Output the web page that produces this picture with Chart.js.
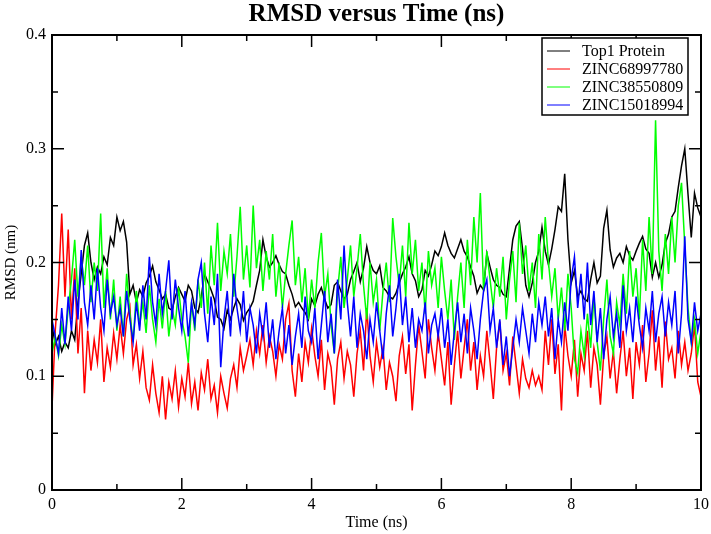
<!DOCTYPE html>
<html>
<head>
<meta charset="utf-8">
<script src="https://cdn.jsdelivr.net/npm/chart.js@4/dist/chart.umd.min.js"></script>
<style>
  body { margin: 0; background: #fff; }
  #rmsd { display: block; }
</style>
</head>
<body>
<canvas id="rmsd" width="711" height="534"></canvas>
<script>
/*--data, sampled every 0.05 ns--*/
var timeStep = 0.05;
var seriesNames = ["Top1 Protein", "ZINC68997780", "ZINC38550809", "ZINC15018994"];
var seriesColors = ["#000000", "#ff0000", "#00ff00", "#0000ff"];

var top1 = [
  0.145,0.128,0.135,0.122,0.130,0.125,0.140,0.132,0.165,0.190,
  0.215,0.226,0.200,0.185,0.196,0.190,0.205,0.198,0.222,0.215,
  0.240,0.228,0.236,0.218,0.172,0.180,0.165,0.176,0.170,0.182,
  0.188,0.197,0.183,0.176,0.168,0.172,0.160,0.158,0.170,0.178,
  0.172,0.166,0.180,0.175,0.160,0.156,0.170,0.190,0.183,0.176,
  0.168,0.152,0.150,0.142,0.158,0.150,0.160,0.168,0.163,0.149,
  0.156,0.160,0.166,0.180,0.193,0.220,0.205,0.196,0.200,0.206,
  0.198,0.192,0.190,0.180,0.172,0.161,0.165,0.160,0.156,0.150,
  0.168,0.162,0.172,0.178,0.168,0.160,0.163,0.180,0.183,0.175,
  0.168,0.172,0.185,0.192,0.200,0.183,0.195,0.214,0.200,0.193,
  0.190,0.197,0.178,0.175,0.170,0.168,0.173,0.182,0.190,0.196,
  0.205,0.190,0.184,0.170,0.176,0.193,0.188,0.198,0.210,0.206,
  0.214,0.226,0.215,0.208,0.204,0.212,0.220,0.210,0.205,0.196,
  0.188,0.173,0.180,0.176,0.208,0.196,0.185,0.180,0.178,0.172,
  0.170,0.195,0.220,0.232,0.236,0.212,0.180,0.170,0.182,0.200,
  0.210,0.231,0.210,0.198,0.212,0.229,0.249,0.245,0.278,0.220,
  0.182,0.193,0.170,0.175,0.168,0.166,0.185,0.200,0.182,0.188,
  0.230,0.246,0.211,0.196,0.204,0.208,0.200,0.214,0.206,0.202,
  0.210,0.217,0.223,0.212,0.208,0.187,0.200,0.187,0.198,0.217,
  0.225,0.240,0.245,0.266,0.285,0.300,0.260,0.222,0.261,0.248,
  0.240
];

var zinc68997780 = [
  0.072,0.140,0.180,0.243,0.170,0.229,0.150,0.195,0.120,0.160,
  0.085,0.140,0.105,0.132,0.112,0.150,0.095,0.125,0.108,0.138,
  0.115,0.145,0.120,0.150,0.161,0.110,0.128,0.098,0.122,0.090,
  0.079,0.110,0.085,0.068,0.100,0.062,0.095,0.080,0.105,0.073,
  0.098,0.082,0.112,0.076,0.095,0.070,0.103,0.088,0.115,0.080,
  0.092,0.068,0.100,0.085,0.072,0.098,0.110,0.090,0.125,0.105,
  0.118,0.132,0.110,0.140,0.120,0.145,0.112,0.135,0.122,0.100,
  0.128,0.115,0.150,0.164,0.105,0.082,0.120,0.095,0.130,0.112,
  0.142,0.118,0.100,0.132,0.088,0.120,0.108,0.075,0.115,0.130,
  0.098,0.122,0.110,0.082,0.120,0.140,0.105,0.160,0.118,0.095,
  0.130,0.108,0.125,0.088,0.112,0.100,0.078,0.118,0.135,0.102,
  0.128,0.070,0.110,0.145,0.122,0.098,0.150,0.125,0.105,0.138,
  0.115,0.092,0.130,0.075,0.110,0.140,0.098,0.125,0.150,0.105,
  0.130,0.088,0.118,0.100,0.140,0.112,0.080,0.125,0.148,0.105,
  0.120,0.092,0.135,0.110,0.085,0.115,0.098,0.090,0.105,0.092,
  0.100,0.088,0.140,0.110,0.150,0.102,0.128,0.070,0.145,0.118,
  0.100,0.132,0.082,0.120,0.105,0.140,0.090,0.125,0.110,0.075,
  0.118,0.135,0.098,0.122,0.085,0.115,0.140,0.100,0.125,0.080,
  0.130,0.110,0.145,0.095,0.120,0.158,0.105,0.135,0.090,0.148,
  0.115,0.125,0.098,0.140,0.110,0.130,0.105,0.120,0.145,0.095,
  0.082
];

var zinc38550809 = [
  0.120,0.135,0.118,0.145,0.128,0.160,0.185,0.220,0.170,0.205,
  0.180,0.215,0.165,0.200,0.175,0.243,0.160,0.195,0.150,0.185,
  0.140,0.170,0.135,0.190,0.155,0.130,0.175,0.145,0.165,0.138,
  0.180,0.150,0.130,0.168,0.142,0.175,0.135,0.160,0.145,0.178,
  0.150,0.135,0.112,0.165,0.140,0.185,0.160,0.200,0.155,0.215,
  0.180,0.235,0.175,0.210,0.190,0.225,0.170,0.205,0.249,0.185,
  0.215,0.178,0.250,0.195,0.220,0.175,0.210,0.185,0.225,0.170,
  0.200,0.160,0.190,0.215,0.237,0.180,0.205,0.165,0.195,0.150,
  0.185,0.160,0.200,0.226,0.170,0.190,0.145,0.120,0.175,0.205,
  0.160,0.185,0.215,0.170,0.195,0.225,0.180,0.150,0.200,0.165,
  0.185,0.140,0.175,0.200,0.165,0.239,0.205,0.180,0.215,0.170,
  0.235,0.190,0.220,0.175,0.200,0.155,0.210,0.180,0.195,0.160,
  0.205,0.175,0.150,0.185,0.132,0.170,0.200,0.160,0.220,0.180,
  0.240,0.200,0.261,0.175,0.210,0.185,0.160,0.195,0.170,0.205,
  0.150,0.185,0.210,0.165,0.235,0.190,0.215,0.175,0.200,0.160,
  0.225,0.185,0.240,0.200,0.170,0.195,0.150,0.178,0.140,0.190,
  0.160,0.115,0.103,0.140,0.118,0.155,0.125,0.170,0.130,0.105,
  0.150,0.185,0.135,0.120,0.165,0.145,0.190,0.155,0.210,0.170,
  0.195,0.150,0.220,0.175,0.240,0.190,0.325,0.210,0.175,0.225,
  0.190,0.240,0.200,0.250,0.270,0.215,0.160,0.130,0.150,0.120,
  0.140
];

var zinc15018994 = [
  0.150,0.135,0.120,0.160,0.128,0.170,0.140,0.185,0.150,0.211,
  0.165,0.145,0.180,0.150,0.195,0.160,0.140,0.185,0.155,0.170,
  0.145,0.160,0.135,0.175,0.150,0.130,0.165,0.140,0.180,0.150,
  0.205,0.165,0.145,0.190,0.155,0.175,0.202,0.150,0.185,0.160,
  0.140,0.175,0.135,0.165,0.145,0.185,0.200,0.155,0.130,0.170,
  0.145,0.190,0.108,0.150,0.175,0.135,0.190,0.160,0.140,0.175,
  0.130,0.160,0.145,0.120,0.155,0.135,0.165,0.125,0.150,0.115,
  0.140,0.160,0.120,0.145,0.110,0.135,0.155,0.125,0.170,0.140,
  0.130,0.160,0.115,0.145,0.175,0.130,0.155,0.120,0.185,0.150,
  0.215,0.165,0.135,0.170,0.125,0.155,0.140,0.115,0.150,0.130,
  0.165,0.140,0.115,0.155,0.180,0.135,0.160,0.190,0.145,0.170,
  0.130,0.160,0.125,0.150,0.140,0.165,0.120,0.145,0.155,0.135,
  0.160,0.125,0.150,0.110,0.140,0.165,0.130,0.155,0.120,0.160,
  0.140,0.115,0.150,0.175,0.185,0.140,0.160,0.125,0.150,0.110,
  0.135,0.100,0.125,0.150,0.130,0.160,0.140,0.120,0.155,0.130,
  0.165,0.145,0.170,0.135,0.160,0.115,0.150,0.130,0.165,0.140,
  0.185,0.205,0.160,0.190,0.150,0.200,0.145,0.175,0.130,0.160,
  0.115,0.150,0.170,0.135,0.155,0.125,0.180,0.140,0.160,0.130,
  0.170,0.145,0.125,0.160,0.140,0.175,0.130,0.155,0.170,0.135,
  0.165,0.145,0.175,0.120,0.155,0.223,0.150,0.130,0.165,0.140,
  0.155
];

var allSeries = [top1, zinc68997780, zinc38550809, zinc15018994];

function toPoints(values) {
  return values.map(function (v, i) { return { x: +(i * timeStep).toFixed(2), y: v }; });
}

var serif = "'Liberation Serif', 'DejaVu Serif', serif";

// grace style frame with inward ticks on all four sides
var frameTicks = {
  id: 'frameTicks',
  afterDatasetsDraw: function (chart) {
    var ctx = chart.ctx, a = chart.chartArea;
    var xs = chart.scales.x, ys = chart.scales.y;
    ctx.save();
    ctx.strokeStyle = '#000';
    ctx.lineWidth = 1.5;
    function tickSet(scale, horiz) {
      var vals = scale.ticks.map(function (t) { return t.value; });
      for (var i = 0; i < vals.length; i++) {
        var p = scale.getPixelForValue(vals[i]);
        drawTick(p, 12, horiz);
        if (i < vals.length - 1) {
          var m = scale.getPixelForValue((vals[i] + vals[i + 1]) / 2);
          drawTick(m, 6, horiz);
        }
      }
    }
    function drawTick(p, len, horiz) {
      ctx.beginPath();
      if (horiz) {
        ctx.moveTo(p, a.bottom); ctx.lineTo(p, a.bottom - len);
        ctx.moveTo(p, a.top); ctx.lineTo(p, a.top + len);
      } else {
        ctx.moveTo(a.left, p); ctx.lineTo(a.left + len, p);
        ctx.moveTo(a.right, p); ctx.lineTo(a.right - len, p);
      }
      ctx.stroke();
    }
    tickSet(xs, true);
    tickSet(ys, false);
    ctx.lineWidth = 2;
    ctx.strokeRect(a.left, a.top, a.right - a.left, a.bottom - a.top);
    ctx.restore();
  }
};

// legend box inside the plot, top right
var boxLegend = {
  id: 'boxLegend',
  afterDraw: function (chart) {
    var ctx = chart.ctx, a = chart.chartArea;
    var w = 146, h = 77;
    var bx = a.right - 13 - w, by = a.top + 3;
    ctx.save();
    ctx.fillStyle = '#fff';
    ctx.fillRect(bx, by, w, h);
    ctx.strokeStyle = '#000';
    ctx.lineWidth = 1.5;
    ctx.strokeRect(bx, by, w, h);
    ctx.font = "16px " + serif;
    ctx.textBaseline = 'middle';
    chart.data.datasets.forEach(function (ds, i) {
      var y = by + 13 + i * 18;
      ctx.strokeStyle = ds.borderColor;
      ctx.lineWidth = 1;
      ctx.beginPath();
      ctx.moveTo(bx + 5, y); ctx.lineTo(bx + 28, y);
      ctx.stroke();
      ctx.fillStyle = '#000';
      ctx.fillText(ds.label, bx + 40, y + 1);
    });
    ctx.restore();
  }
};

var rmsdChart = new Chart(document.getElementById('rmsd'), {
  type: 'line',
  data: {
    datasets: allSeries.map(function (vals, i) {
      return {
        label: seriesNames[i],
        data: toPoints(vals),
        borderColor: seriesColors[i],
        borderWidth: 1.5,
        pointRadius: 0,
        tension: 0,
        order: 4 - i
      };
    })
  },
  options: {
    responsive: false,
    animation: false,
    layout: { padding: { left: 0, right: 10, top: 0, bottom: 0 } },
    plugins: {
      legend: { display: false },
      tooltip: { enabled: false },
      title: {
        display: true,
        fullSize: false,
        text: 'RMSD versus Time (ns)',
        color: '#000',
        font: { family: serif, size: 25, weight: 'bold' },
        padding: { top: 0, bottom: 5 }
      }
    },
    scales: {
      x: {
        type: 'linear',
        min: 0,
        max: 10,
        grid: { display: false, drawTicks: false },
        border: { display: false },
        ticks: {
          stepSize: 2,
          padding: 5,
          color: '#000',
          maxRotation: 0,
          font: { family: serif, size: 16 }
        },
        title: {
          display: true,
          text: 'Time (ns)',
          color: '#000',
          font: { family: serif, size: 16 },
          padding: { top: 0, bottom: 2 }
        },
        afterFit: function (s) {
          s.height = 44;
          s.paddingLeft = 0;
          s.paddingRight = 0;
        }
      },
      y: {
        min: 0,
        max: 0.4,
        grid: { display: false, drawTicks: false },
        border: { display: false },
        ticks: {
          stepSize: 0.1,
          padding: 6,
          color: '#000',
          font: { family: serif, size: 16 },
          callback: function (v) { return +v.toFixed(2); }
        },
        title: {
          display: true,
          text: 'RMSD (nm)',
          color: '#000',
          font: { family: serif, size: 15 },
          padding: { top: 2, bottom: 0 }
        },
        afterFit: function (s) { s.width = 52; }
      }
    }
  },
  plugins: [frameTicks, boxLegend]
});
</script>
</body>
</html>
